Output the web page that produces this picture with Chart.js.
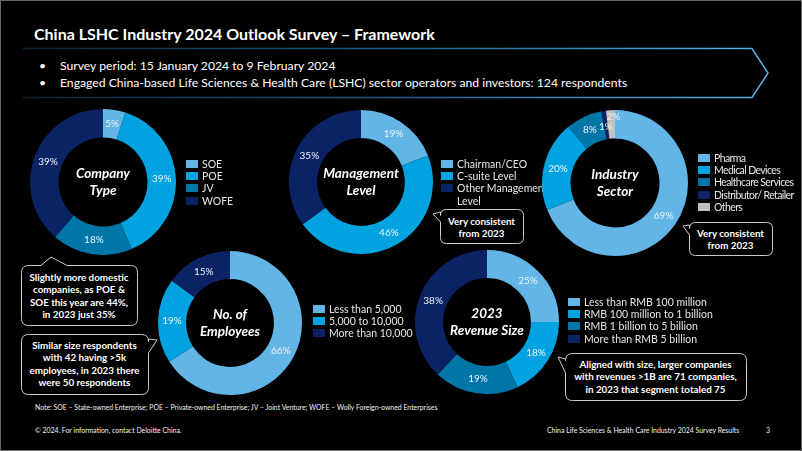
<!DOCTYPE html>
<html>
<head>
<meta charset="utf-8">
<script src="https://cdn.jsdelivr.net/npm/chart.js@4/dist/chart.umd.min.js"></script>
<style>
  html, body { margin: 0; padding: 0; background: #000; }
  #slide {
    position: relative; width: 800px; height: 449px; background: #000;
    border: 1px solid #6a6a6a; overflow: hidden;
    font-family: Lato, "Open Sans", sans-serif; color: #fff;
  }
  .abs { position: absolute; }
  .title { left: 33px; top: 23px; font-size: 16px; font-weight: bold; white-space: nowrap; }
  .bullet { left: 38px; font-size: 12.2px; white-space: nowrap; }
  .bullet span { position: absolute; left: 21px; }
  .donut { position: absolute; }
  .center { position: absolute; text-align: center; font-weight: bold; font-style: italic;
            font-size: 13.5px; line-height: 17px; white-space: nowrap; transform: translate(-50%, -50%); }
  .legend { position: absolute; font-size: 10.5px; line-height: 12.2px; color: #e6e6e6; white-space: nowrap; }
  .legend div { position: relative; padding-left: 16px; }
  .legend i { position: absolute; left: 0; top: 2px; width: 12px; height: 8px; }
  .callout { position: absolute; text-align: center; font-weight: bold; font-size: 9.8px;
             line-height: 12.4px; white-space: nowrap; }
  .small { font-size: 6.9px; color: #f2f2f2; white-space: nowrap; }
</style>
</head>
<body>
<div id="slide">
  <svg class="abs" style="left:0;top:0" width="800" height="449">
    <defs>
      <linearGradient id="bannerLine" x1="0" x2="1" y1="0" y2="0">
        <stop offset="0" stop-color="#0a2236"/>
        <stop offset="0.5" stop-color="#1f5f86"/>
        <stop offset="1" stop-color="#5fb3e6"/>
      </linearGradient>
    </defs>
    <polyline points="22,47.5 751,47.5 767,72 751,96.5 22,96.5" fill="none" stroke="url(#bannerLine)" stroke-width="1.5"/>
    <g id="bubbles" fill="#000" stroke="#c9c9c9" stroke-width="1"></g>
  </svg>

  <div class="abs title">China LSHC Industry 2024 Outlook Survey – Framework</div>
  <div class="abs bullet" style="top:57px">•<span>Survey period: 15 January 2024 to 9 February 2024</span></div>
  <div class="abs bullet" style="top:74px">•<span>Engaged China-based Life Sciences &amp; Health Care (LSHC) sector operators and investors: 124 respondents</span></div>

  <div class="abs callout" style="left:439px;top:214px;width:83px">Very consistent<br>from 2023</div>
  <div class="abs callout" style="left:688px;top:226px;width:83px">Very consistent<br>from 2023</div>
  <div class="abs callout" style="left:20px;top:270px;width:116px">Slightly more domestic<br>companies, as POE &amp;<br>SOE this year are 44%,<br>in 2023 just 35%</div>
  <div class="abs callout" style="left:20px;top:338px;width:127px">Similar size respondents<br>with 42 having &gt;5k<br>employees, in 2023 there<br>were 50 respondents</div>
  <div class="abs callout" style="left:564px;top:357px;width:181px">Aligned with size, larger companies<br>with revenues &gt;1B are 71 companies,<br>in 2023 that segment totaled 75</div>

  <div class="abs small" style="left:34px;top:402px">Note: SOE – State-owned Enterprise; POE – Private-owned Enterprise; JV – Joint Venture; WOFE – Wolly Foreign-owned Enterprises</div>
  <div class="abs small" style="left:34px;top:425px">© 2024. For information, contact Deloitte China.</div>
  <div class="abs small" style="left:546px;top:425px">China Life Sciences &amp; Health Care Industry 2024 Survey Results</div>
  <div class="abs small" style="left:765px;top:425px">3</div>
</div>

<script>
// ---- data (percent of 124 respondents) ----
const companyTypes = ["SOE", "POE", "JV", "WOFE"];
const companyShare = [5, 39, 18, 39];

const mgmtLevels = ["Chairman/CEO", "C-suite Level", "Other Management Level"];
const mgmtShare = [19, 46, 35];

const sectors = ["Pharma", "Medical Devices", "Healthcare Services", "Distributor/ Retailer", "Others"];
const sectorShare = [69, 20, 8, 1, 2];

const employeeBands = ["Less than 5,000", "5,000 to 10,000", "More than 10,000"];
const employeeShare = [66, 19, 15];

const revenueBands = ["Less than RMB 100 million", "RMB 100 million to 1 billion", "RMB 1 billion to 5 billion", "More than RMB 5 billion"];
const revenueShare = [25, 18, 19, 38];

// ---- colours ----
const LIGHT = "#62b5e5", MID = "#00a3e0", TEAL = "#0076a8", NAVY = "#0b2265", GREY = "#bfc0c0";

// draws the % labels on the ring
const pctLabels = {
  id: "pctLabels",
  afterDatasetsDraw(chart, args, opts) {
    const ctx = chart.ctx;
    const meta = chart.getDatasetMeta(0);
    const vals = chart.data.datasets[0].data;
    ctx.save();
    ctx.font = "10px Lato, sans-serif";
    ctx.fillStyle = "#eef4f8";
    ctx.textAlign = "center";
    ctx.textBaseline = "middle";
    meta.data.forEach((arc, i) => {
      const p = arc.tooltipPosition();
      const off = (opts.offsets && opts.offsets[i]) || [0, 0];
      ctx.fillText(vals[i] + "%", p.x + off[0], p.y + off[1]);
    });
    ctx.restore();
  }
};

function makeDonut(cx, cy, r, labels, values, colors, centerText, offsets) {
  const slide = document.getElementById("slide");
  const box = document.createElement("div");
  box.className = "donut";
  box.style.left = (cx - r) + "px";
  box.style.top = (cy - r) + "px";
  const cv = document.createElement("canvas");
  cv.width = 2 * r; cv.height = 2 * r;
  box.appendChild(cv);
  slide.appendChild(box);

  new Chart(cv, {
    type: "doughnut",
    data: { labels: labels, datasets: [{ data: values, backgroundColor: colors, borderWidth: 0 }] },
    options: {
      responsive: false,
      animation: false,
      cutout: "61%",
      layout: { padding: 0 },
      plugins: {
        legend: { display: false },
        tooltip: { enabled: false },
        pctLabels: { offsets: offsets || [] }
      }
    },
    plugins: [pctLabels]
  });

  const c = document.createElement("div");
  c.className = "center";
  c.style.left = cx + "px";
  c.style.top = cy + "px";
  c.innerHTML = centerText;
  slide.appendChild(c);
}

function makeLegend(x, y, labels, colors, width, spacing) {
  const lg = document.createElement("div");
  lg.className = "legend";
  lg.style.left = x + "px";
  lg.style.top = y + "px";
  if (width) { lg.style.width = width + "px"; lg.style.whiteSpace = "normal"; }
  if (spacing) lg.style.letterSpacing = spacing + "px";
  labels.forEach((l, i) => {
    const row = document.createElement("div");
    row.innerHTML = '<i style="background:' + colors[i] + '"></i>' + l;
    lg.appendChild(row);
  });
  document.getElementById("slide").appendChild(lg);
}

// speech bubble outline: rounded rect with a tail on one side
function bubble(x, y, w, h, rad, side, a, b, tx, ty) {
  let d = "M" + (x + rad) + "," + y;
  if (side === "top") d += " L" + a + "," + y + " L" + tx + "," + ty + " L" + b + "," + y;
  d += " L" + (x + w - rad) + "," + y + " Q" + (x + w) + "," + y + " " + (x + w) + "," + (y + rad);
  if (side === "right") d += " L" + (x + w) + "," + a + " L" + tx + "," + ty + " L" + (x + w) + "," + b;
  d += " L" + (x + w) + "," + (y + h - rad) + " Q" + (x + w) + "," + (y + h) + " " + (x + w - rad) + "," + (y + h);
  d += " L" + (x + rad) + "," + (y + h) + " Q" + x + "," + (y + h) + " " + x + "," + (y + h - rad);
  if (side === "left") d += " L" + x + "," + b + " L" + tx + "," + ty + " L" + x + "," + a;
  d += " L" + x + "," + (y + rad) + " Q" + x + "," + y + " " + (x + rad) + "," + y + " Z";
  const p = document.createElementNS("http://www.w3.org/2000/svg", "path");
  p.setAttribute("d", d);
  document.getElementById("bubbles").appendChild(p);
}

bubble(439.5, 208.5, 83, 34, 6, "left", 211, 221, 432, 213);
bubble(688.5, 221.5, 83, 33, 6, "left", 224, 234, 682, 225);
bubble(20.5, 264.5, 116, 60, 7, "top", 40, 66, 50, 256);
bubble(20.5, 333.5, 127, 60, 7, "right", 338, 352, 156, 339);
bubble(564.5, 352.5, 181, 47, 7, "left", 358, 372, 557, 356);

makeDonut(102, 181, 73, companyTypes, companyShare, [LIGHT, MID, TEAL, NAVY], "Company<br>Type");
makeLegend(185, 157, companyTypes, [LIGHT, MID, TEAL, NAVY]);

makeDonut(360, 181, 72, mgmtLevels, mgmtShare, [LIGHT, MID, NAVY], "Management<br>Level");
makeLegend(440, 157, mgmtLevels, [LIGHT, MID, NAVY], 112);

makeDonut(614, 182, 73, sectors, sectorShare, [LIGHT, MID, TEAL, NAVY, GREY], "Industry<br>Sector",
  [[0, 0], [0, 0], [0, 0], [0, 2], [2, -8]]);
makeLegend(697, 151, sectors, [LIGHT, MID, TEAL, NAVY, GREY], 0, -0.6);

makeDonut(229, 322, 72, employeeBands, employeeShare, [LIGHT, MID, NAVY], "No. of<br>Employees");
makeLegend(312, 302, employeeBands, [LIGHT, MID, NAVY]);

makeDonut(486, 321, 72, revenueBands, revenueShare, [LIGHT, MID, TEAL, NAVY], "2023<br>Revenue Size");
makeLegend(567, 295, revenueBands, [LIGHT, MID, TEAL, NAVY]);
</script>
</body>
</html>
